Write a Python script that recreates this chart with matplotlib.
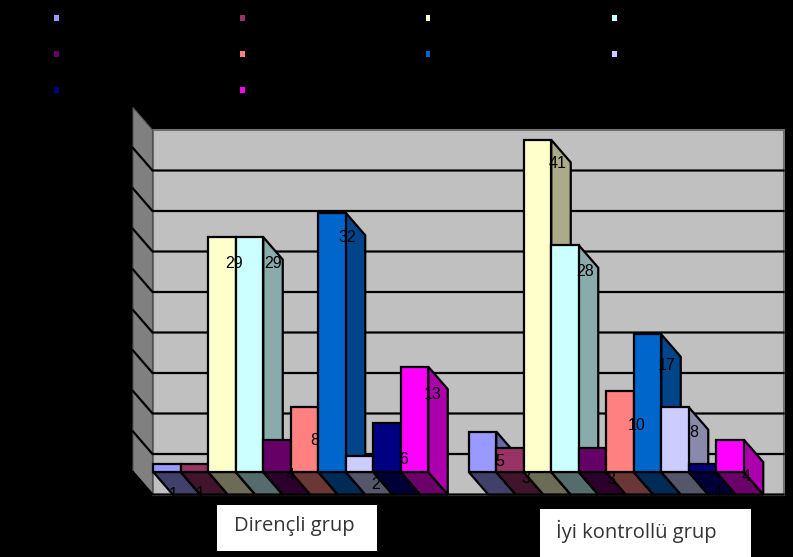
import matplotlib
matplotlib.use("Agg")
import matplotlib.pyplot as plt
from matplotlib.patches import Polygon, Rectangle
from matplotlib.colors import to_rgb

W, H = 793, 557

groups = ["Dirençli grup", "İyi kontrollü grup"]
colors = ["#9999FF", "#993366", "#FFFFCC", "#CCFFFF", "#660066",
          "#FF8080", "#0066CC", "#CCCCFF", "#000080", "#FF00FF"]
resistant = [1, 1, 29, 29, 4, 8, 32, 2, 6, 13]
controlled = [5, 3, 41, 28, 3, 10, 17, 8, 1, 4]
yticks = [0, 5, 10, 15, 20, 25, 30, 35, 40]

# label offsets from the top left corner of each bar, in pixels
label_dx = [[20, 19, 26, 37, 27, 24, 29, 30, 30, 32],
            [31, 30, 34, 34, 32, 30, 33, 32, 30, 30]]
label_dy = [[31, 30, 26, 26, 36, 33, 25, 29, 36, 28],
            [30, 31, 24, 26, 32, 34, 31, 25, 30, 37]]

# 3d look: how far the depth goes, in data units
depth_x = 19.5 / 315.5
depth_y = -22.5 / 8.1
bar_w = 27.5 / 315.5


def shade(col, f):
    return tuple(c * f for c in to_rgb(col))


fig = plt.figure(figsize=(W / 100, H / 100), dpi=100, facecolor="black")
ax = fig.add_axes([133 / W, (H - 472) / H, 631 / W, 364.5 / H])
ax.set_xlim(0, 2)
ax.set_ylim(0, 45)
ax.axis("off")


def poly(pts, fc, lw=1.6, ec="black", z=1):
    ax.add_patch(Polygon(pts, closed=True, facecolor=fc, edgecolor=ec,
                         linewidth=lw, clip_on=False, zorder=z, joinstyle="miter"))


# walls
back_l, back_r = depth_x, 2 + depth_x
low, top = depth_y, 45 + depth_y
poly([(back_l, low), (back_r, low), (back_r, top), (back_l, top)], "#C0C0C0", 1.5, "#707070")
poly([(0, 0), (back_l, low), (back_l, top), (0, 45)], "#808080", 0.8, "#505050")

for t in yticks:
    ax.plot([0, back_l, back_r], [t, t + depth_y, t + depth_y], color="black",
            lw=1.6, clip_on=False, zorder=2, solid_joinstyle="miter")

# bars, left to right so every bar hides the side of the one before
for g, values in enumerate([resistant, controlled]):
    left = g + 0.5 - bar_w * len(values) / 2
    for i, v in enumerate(values):
        x0 = left + i * bar_w
        x1 = x0 + bar_w
        poly([(x0, 0), (x1, 0), (x1 + depth_x, depth_y), (x0 + depth_x, depth_y)],
             shade(colors[i], 0.42), z=3)
        poly([(x1, 0), (x1 + depth_x, depth_y), (x1 + depth_x, v + depth_y), (x1, v)],
             shade(colors[i], 0.67), z=3)
        poly([(x0, 0), (x1, 0), (x1, v), (x0, v)], colors[i], z=3)
        ax.annotate(str(v), xy=(x0, v), xytext=(label_dx[g][i], -label_dy[g][i]),
                    textcoords="offset pixels", ha="center", va="center",
                    fontsize=11.5, family="Liberation Sans", color="black",
                    annotation_clip=False, zorder=5)

# legend swatches, the legend text is black on black in the source
legend_x = [56, 242, 428, 614]
legend_y = [18, 54, 90]
for i, col in enumerate(colors):
    px = legend_x[i % 4]
    py = legend_y[i // 4]
    fig.add_artist(Rectangle(((px - 2.5) / W, 1 - (py + 2.5) / H), 5 / W, 5 / H,
                             transform=fig.transFigure, facecolor=col, edgecolor="none"))

# pasted text boxes under the groups
boxes = [(217, 505, 160, 46, 234, 526), (540, 509, 211, 48, 556, 531)]
for name, (bx, by, bw, bh, tx, ty) in zip(groups, boxes):
    fig.add_artist(Rectangle((bx / W, 1 - (by + bh) / H), bw / W, bh / H,
                             transform=fig.transFigure, facecolor="white", edgecolor="none"))
    fig.text(tx / W, 1 - ty / H, name, fontsize=14.5, family="Open Sans", color="#333333",
             ha="left", va="center")

fig.savefig("out.png", dpi=100, facecolor="black")
